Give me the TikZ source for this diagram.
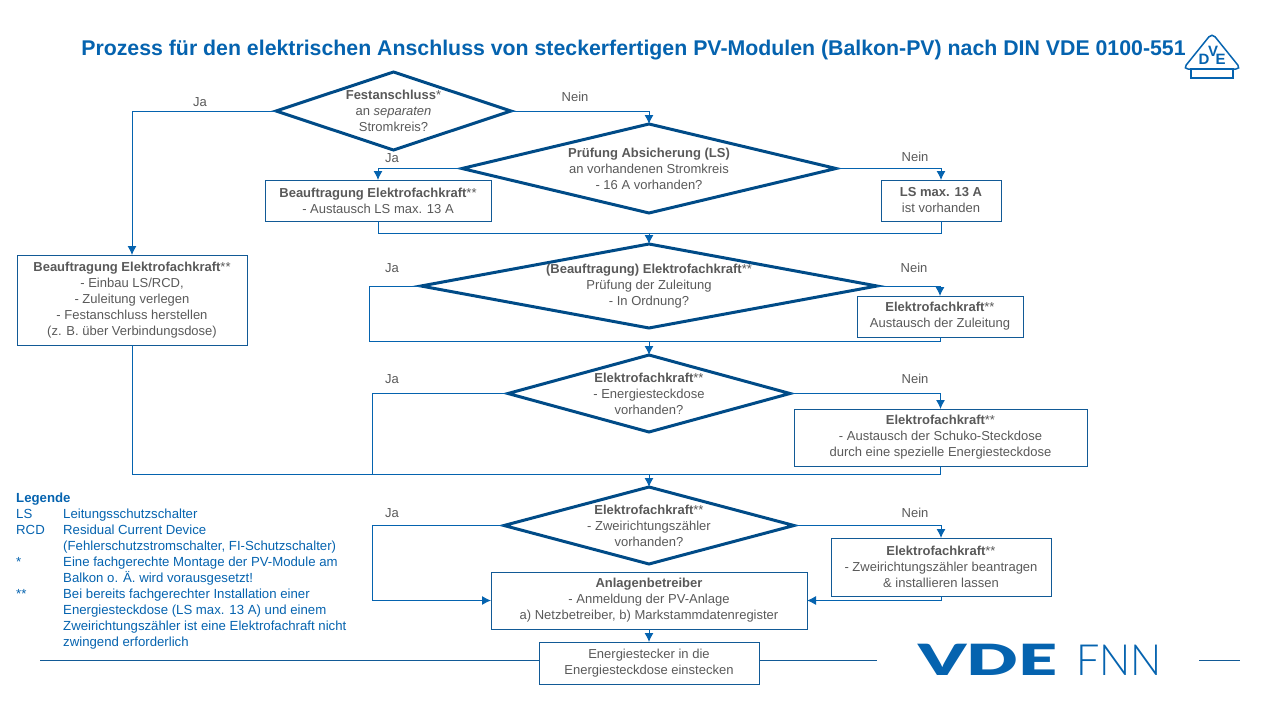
\documentclass[tikz,border=0pt]{standalone}
\usepackage{fontspec}
\setmainfont{Liberation Sans}
\newfontfamily\thinfont{Lato Light}
\newfontfamily\heavyfont{Lato Black}
\usetikzlibrary{arrows.meta,shapes.geometric}

\definecolor{vdeblue}{HTML}{0563AF}
\definecolor{vdedark}{HTML}{004B87}
\definecolor{vdeframe}{HTML}{125A96}
\definecolor{vdetext}{HTML}{595959}

\tikzset{
  decision/.style={diamond,draw=vdedark,line width=3pt,inner sep=0pt,outer sep=0pt,
    label={[bodytext]center:#1}},
  bodytext/.style={text=vdetext,align=center,font=\fontsize{13}{16}\selectfont},
  process/.style={rectangle,draw=vdeframe,line width=1pt,outer sep=0pt,inner sep=0pt,bodytext},
  conn/.style={draw=vdeblue,line width=1pt},
  into/.style={conn,-{Latex[length=9pt,width=9pt]}},
  answer/.style={text=vdetext,font=\fontsize{13}{16}\selectfont,inner sep=0pt},
  rule/.style={draw=vdeframe,line width=1pt},
}

\begin{document}
\begin{tikzpicture}[x=1pt,y=-1pt]
\useasboundingbox (0,0) rectangle (1280,720);

\node[text=vdeblue,font=\fontsize{21.3}{24}\bfseries\selectfont,inner sep=0pt] (title) at (633.5,50)
  {Prozess für den elektrischen Anschluss von steckerfertigen PV-Modulen (Balkon-PV) nach DIN VDE 0100-551};

% decisions
\node[decision={\textbf{Festanschluss}*\\an \textit{separaten}\\Stromkreis?},minimum width=235pt,minimum height=78pt] (fest) at (393.5,111) {};
\node[decision={\textbf{Prüfung Absicherung (LS)}\\an vorhandenen Stromkreis\\- 16 A vorhanden?},minimum width=374pt,minimum height=89pt] (absich) at (649,168.5) {};
\node[decision={\textbf{(Beauftragung) Elektrofachkraft}**\\Prüfung der Zuleitung\\- In Ordnung?},minimum width=456pt,minimum height=84pt] (zul) at (649,286) {};
\node[decision={\textbf{Elektrofachkraft}**\\- Energiesteckdose\\vorhanden?},minimum width=282pt,minimum height=77pt] (dose) at (649,393.5) {};
\node[decision={\textbf{Elektrofachkraft}**\\- Zweirichtungszähler\\vorhanden?},minimum width=290pt,minimum height=77pt] (zaehler) at (649,525.5) {};

% boxes
\node[process,minimum width=226pt,minimum height=41pt] (lsneu) at (378,200.5) {\textbf{Beauftragung Elektrofachkraft}**\\- Austausch LS max. 13 A};
\node[process,minimum width=120pt,minimum height=41pt] (lsda) at (941,200.5) {\textbf{LS max. 13 A}\\ist vorhanden};
\node[process,minimum width=230pt,minimum height=90pt] (festbox) at (132,300) {\textbf{Beauftragung Elektrofachkraft}**\\- Einbau LS/RCD,\\- Zuleitung verlegen\\- Festanschluss herstellen\\(z. B. über Verbindungsdose)};
\node[process,minimum width=166pt,minimum height=41pt] (zulbox) at (940,316.5) {\textbf{Elektrofachkraft}**\\Austausch der Zuleitung};
\node[process,minimum width=293pt,minimum height=57pt] (dosebox) at (940.5,437.5) {\textbf{Elektrofachkraft}**\\- Austausch der Schuko-Steckdose\\durch eine spezielle Energiesteckdose};
\node[process,minimum width=220pt,minimum height=58pt] (zaehlbox) at (941,567) {\textbf{Elektrofachkraft}**\\- Zweirichtungszähler beantragen\\\& installieren lassen};
\node[process,minimum width=316pt,minimum height=57pt] (betreiber) at (649,600.5) {\textbf{Anlagenbetreiber}\\- Anmeldung der PV-Anlage\\a) Netzbetreiber, b) Markstammdatenregister};
\node[process,minimum width=220pt,minimum height=42pt] (stecker) at (649,663) {Energiestecker in die\\Energiesteckdose einstecken};

% merge points
\coordinate (m1) at (649,233);
\coordinate (m2) at (649,341);
\coordinate (m3) at (649,474);
\coordinate (z1) at (369,286);
\coordinate (z2) at (372,393.5);
\coordinate (z3) at (372,525.5);

% connectors
\draw[into] (fest.west) -| (festbox.north);
\draw[into] (fest.east) -| (absich.north);
\draw[into] (absich.west) -| (lsneu.north);
\draw[into] (absich.east) -| (lsda.north);
\draw[conn] (lsneu.south) |- (m1);
\draw[conn] (lsda.south) |- (m1);
\draw[into] (m1) -- (zul.north);
\draw[conn] (zul.west) -- (z1) |- (m2);
\draw[into] (zul.east) -| (zulbox.north);
\draw[conn] (zulbox.south) |- (m2);
\draw[into] (m2) -- (dose.north);
\draw[conn] (dose.west) -- (z2) |- (m3);
\draw[into] (dose.east) -| (dosebox.north);
\draw[conn] (dosebox.south) |- (m3);
\draw[conn] (festbox.south) |- (m3);
\draw[into] (m3) -- (zaehler.north);
\draw[conn] (zaehler.west) -- (z3);
\draw[into] (z3) |- (betreiber.west);
\draw[into] (zaehler.east) -| (zaehlbox.north);
\draw[into] (zaehlbox.south) |- (betreiber.east);
\draw[into] (betreiber.south) -- (stecker.north);

% answers
\node[answer] (ja1) at (200,102) {Ja};
\node[answer] (nein1) at (575,97) {Nein};
\node[answer] (ja2) at (392,158) {Ja};
\node[answer] (nein2) at (915,157) {Nein};
\node[answer] (ja3) at (392,268) {Ja};
\node[answer] (nein3) at (914,268) {Nein};
\node[answer] (ja4) at (392,379) {Ja};
\node[answer] (nein4) at (915,379) {Nein};
\node[answer] (ja5) at (392,513) {Ja};
\node[answer] (nein5) at (915,513) {Nein};

% legend
\node[anchor=north west,inner sep=0pt,text=vdeblue,font=\fontsize{13.2}{16}\selectfont] (legende) at (16,491) {%
\begin{tabular}{@{}p{47pt}@{}l@{}}
\multicolumn{2}{@{}l}{\textbf{Legende}}\\
LS & Leitungsschutzschalter\\
RCD & Residual Current Device\\
 & (Fehlerschutzstromschalter, FI-Schutzschalter)\\
{*} & Eine fachgerechte Montage der PV-Module am\\
 & Balkon o. Ä. wird vorausgesetzt!\\
{**} & Bei bereits fachgerechter Installation einer\\
 & Energiesteckdose (LS max. 13 A) und einem\\
 & Zweirichtungszähler ist eine Elektrofachraft nicht\\
 & zwingend erforderlich
\end{tabular}};

% footer
\coordinate (f1) at (40,660.5);
\coordinate (f2) at (877,660.5);
\coordinate (f3) at (1199,660.5);
\coordinate (f4) at (1240,660.5);
\draw[rule] (f1) -- (f1 -| stecker.west);
\draw[rule] (f2 -| stecker.east) -- (f2);
\draw[rule] (f3) -- (f4);

\node[text=vdeblue,font=\fontsize{43}{43}\heavyfont,xscale=1.58,anchor=base west,inner sep=0pt] (vde) at (918,675) {VDE};
\node[text=vdeblue,font=\fontsize{43}{43}\thinfont,xscale=0.96,anchor=base west,inner sep=0pt] (fnn) at (1076,675) {FNN};

% mark top right
\draw[vdeblue,line width=1.5pt,rounded corners=5pt] (1212,33) -- (1241,69) -- (1183,69) -- cycle;
\draw[vdeblue,line width=1.5pt] (1191,69) rectangle (1233,78);
\node[text=vdeblue,font=\fontsize{15}{15}\bfseries\selectfont,inner sep=0pt] (markd) at (1204,59) {D};
\node[text=vdeblue,font=\fontsize{15}{15}\bfseries\selectfont,inner sep=0pt] (markv) at (1213,51.5) {V};
\node[text=vdeblue,font=\fontsize{15}{15}\bfseries\selectfont,inner sep=0pt] (marke) at (1220.5,59) {E};

\end{tikzpicture}
\end{document}
